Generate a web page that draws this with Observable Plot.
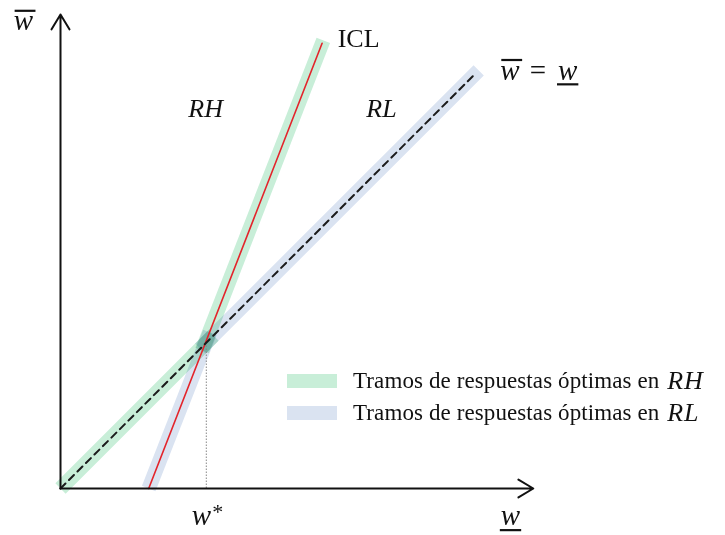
<!DOCTYPE html>
<html>
<head>
<meta charset="utf-8">
<script src="https://cdn.jsdelivr.net/npm/d3@7"></script>
<script src="https://cdn.jsdelivr.net/npm/@observablehq/plot@0.6"></script>
<style>
  html, body { margin: 0; padding: 0; background: #fff; }
  #wrap { position: relative; width: 725px; height: 535px; }
  #legend { position: absolute; left: 287px; top: 365px; font-family: "Liberation Serif", serif; font-size: 23px; color: #111; letter-spacing: 0.1px; }
  .row { display: flex; align-items: center; height: 32px; white-space: pre; }
  .sw { width: 50px; height: 14px; margin-right: 16px; }
  .row i { font-size: 26px; letter-spacing: 1px; margin-left: 2px; }
</style>
</head>
<body>
<div id="wrap">
  <div id="chart"></div>
  <div id="legend"></div>
</div>
<script>
// ---- data (axis units) ----
const axisEnds = {x: 7.88, y: 7.9};
const diagonal = [{x: 0, y: 0}, {x: 6.9, y: 6.9}];            // w̄ = w
const iclLine = [{x: 1.47, y: 0}, {x: 4.36, y: 7.42}];        // ICL
const wStar = 2.43;
const rhSegments = [
  {x1: 0, y1: 0, x2: 2.55, y2: 2.55},
  {x1: 2.36, y1: 2.3, x2: 4.38, y2: 7.47}
];
const rlSegments = [
  {x1: 1.47, y1: 0, x2: 2.49, y2: 2.6},
  {x1: 2.33, y1: 2.33, x2: 6.97, y2: 6.97}
];
const legendLabels = ["Tramos de respuestas óptimas en ", "Tramos de respuestas óptimas en "];
const legendRegions = ["RH", "RL"];
const colorRH = "#c8eed8";
const colorRL = "#dae3f1";

const axisLines = [
  {x1: 0, y1: 0, x2: axisEnds.x, y2: 0},
  {x1: 0, y1: 0, x2: 0, y2: axisEnds.y}
];

const mathFont = {fontFamily: "Liberation Serif", fontStyle: "italic", fontSize: 29, fill: "#111"};

const chart = Plot.plot({
  width: 725,
  height: 535,
  marginLeft: 60,
  marginRight: 65,
  marginTop: 8,
  marginBottom: 47,
  x: {domain: [0, 10], axis: null},
  y: {domain: [0, 8], axis: null},
  marks: [
    Plot.link(rhSegments, {x1: "x1", y1: "y1", x2: "x2", y2: "y2", stroke: colorRH, strokeWidth: 14.5, strokeLinecap: "butt", mixBlendMode: "multiply"}),
    Plot.link(rlSegments, {x1: "x1", y1: "y1", x2: "x2", y2: "y2", stroke: colorRL, strokeWidth: 14.5, strokeLinecap: "butt", mixBlendMode: "multiply"}),
    Plot.ruleX([wStar], {y1: 0, y2: wStar, stroke: "#888", strokeWidth: 1, strokeDasharray: "1.5,1.5"}),
    Plot.line(iclLine, {x: "x", y: "y", stroke: "#e3242b", strokeWidth: 1.6}),
    Plot.line(diagonal, {x: "x", y: "y", stroke: "#1a1a1a", strokeWidth: 2, strokeDasharray: "7,5"}),
    Plot.arrow(axisLines, {x1: "x1", y1: "y1", x2: "x2", y2: "y2", stroke: "#111", strokeWidth: 2, headAngle: 62, headLength: 13, insetStart: 0, insetEnd: 0}),
    Plot.text([{x: -0.62, y: 7.79, t: "w"}, {x: 7.5, y: -0.46, t: "w"}, {x: 2.45, y: -0.46, t: "w*"}], {x: "x", y: "y", text: "t", ...mathFont}),
    Plot.text([{x: 2.42, y: 6.33, t: "RH"}, {x: 5.35, y: 6.33, t: "RL"}], {x: "x", y: "y", text: "t", fontFamily: "Liberation Serif", fontStyle: "italic", fontSize: 26, fill: "#111"}),
    Plot.text([{x: 4.62, y: 7.5, t: "ICL"}], {x: "x", y: "y", text: "t", textAnchor: "start", fontFamily: "Liberation Serif", fontSize: 26, fill: "#111"}),
    Plot.text([{x: 7.33, y: 6.97, t: "w = w"}], {x: "x", y: "y", text: "t", textAnchor: "start", ...mathFont})
  ]
});
document.getElementById("chart").appendChild(chart);

// ---- typographic decorations (overline / underline / superscript) ----
const svg = d3.select(chart);
const texts = svg.selectAll("text").nodes();
const wTexts = texts.filter(n => n.textContent === "w");
const wStarText = texts.find(n => n.textContent === "w*");
const eqText = texts.find(n => n.textContent === "w = w");

const ws = d3.select(wStarText);
ws.text(null);
ws.append("tspan").text("w");
ws.append("tspan").attr("dy", "-0.3em").attr("dx", "1").attr("font-size", "22px").attr("font-style", "normal").text("*");

const eq = d3.select(eqText);
eq.text(null);
eq.append("tspan").text("w");
eq.append("tspan").attr("font-style", "normal").attr("dx", "10").text("=");
eq.append("tspan").attr("dx", "12").text("w");

function decorate(textNode, charIndex, kind) {
  const fs = 29;
  const ext = textNode.getExtentOfChar(charIndex);
  const baseline = ext.y + ext.height * (0.891 / 1.107);
  const yy = kind === "over" ? baseline - 0.46 * fs - 6 : baseline + 5;
  const x1 = ext.x + (kind === "over" ? 1 : -1);
  const x2 = ext.x + ext.width + (kind === "over" ? 2.5 : 1);
  d3.select(textNode.parentNode).append("line")
    .attr("transform", textNode.getAttribute("transform"))
    .attr("x1", x1).attr("x2", x2)
    .attr("y1", yy).attr("y2", yy)
    .attr("stroke", "#111").attr("stroke-width", 2.2);
}
decorate(wTexts[0], 0, "over");
decorate(wTexts[1], 0, "under");
decorate(eqText, 0, "over");
decorate(eqText, eqText.getNumberOfChars() - 1, "under");

// ---- legend ----
const legend = d3.select("#legend");
[colorRH, colorRL].forEach((c, i) => {
  const row = legend.append("div").attr("class", "row");
  row.append("div").attr("class", "sw").style("background", c);
  row.append("span").text(legendLabels[i]);
  row.append("i").text(legendRegions[i]);
});
</script>
</body>
</html>
